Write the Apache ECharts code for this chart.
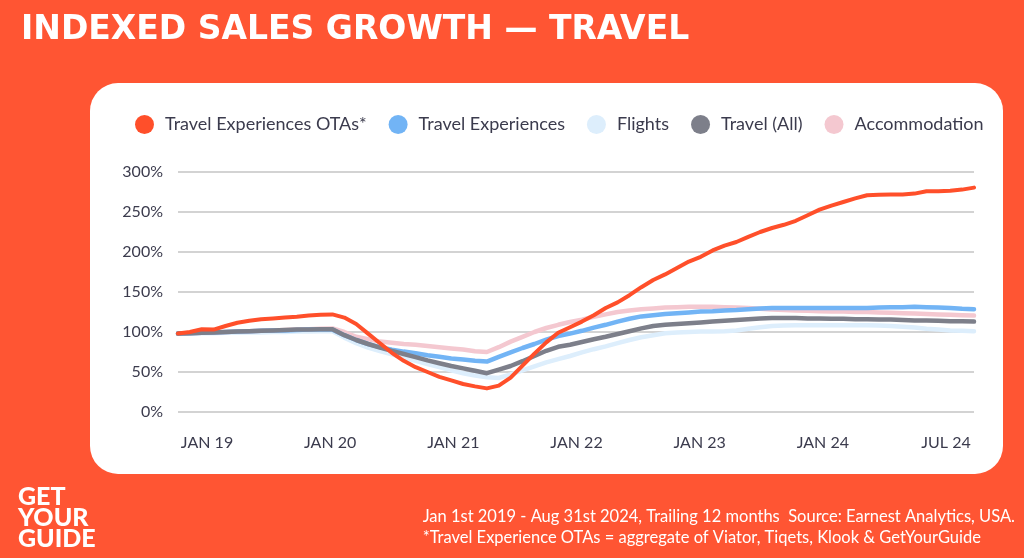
<!DOCTYPE html>
<html>
<head>
<meta charset="utf-8">
<style>
html,body{margin:0;padding:0;background:#FF5533;}
#chart{width:1024px;height:558px;}
</style>
<script src="https://cdn.jsdelivr.net/npm/echarts@6/dist/echarts.min.js"></script>
</head>
<body>
<div id="chart"></div>
<script>
// Monthly trailing-12-month index, Jan 2019 .. Aug 2024 (68 months)
const months = [];
for (let y = 2019; y <= 2024; y++) {
  for (let m = 1; m <= 12; m++) {
    if (y === 2024 && m > 8) break;
    months.push(y + '-' + (m < 10 ? '0' + m : m));
  }
}
const tickLabels = ['JAN 19', 'JAN 20', 'JAN 21', 'JAN 22', 'JAN 23', 'JAN 24', 'JUL 24'];
const seriesNames = ['Travel Experiences OTAs*', 'Travel Experiences', 'Flights', 'Travel (All)', 'Accommodation'];

const otas = [98,100,103.5,103,107.5,111.5,114,116,117,118,119,120.5,121.5,122,118,110,98,86,74,64,56,50,44,39.5,35,32,29.5,33,43,58,73,87,99,106,113,121,130,137,146,156,165,172,180,188,194,202,208,212.5,219,225,230,234,239,246,253,258,262.5,267,271,271.5,272,272,273,276,276,276.5,278,280.5];
const travelExp = [98,98.5,99,99.5,100,100.5,101,101.5,102,102,102.5,103,103,103,96,90,85,81,78,75.5,73.5,71,69,67,65.5,64,63,69,74.5,80,85,90.5,95,98,101.5,105.5,109,113,116.5,119.5,121,122.5,123.5,124.5,125.5,126,127,127.5,128.5,129.5,130,130,130,130,130,130,130,130,130,130.5,131,131,131.5,131,130.5,130,129,128.5];
const flights = [98,98,98.5,98.5,99,99,99.5,99.5,100,100,100.5,100.5,101,101,93,86,80.5,76,72,68,64,60,56,52,48.5,45.5,43.5,42.5,47,52,57,62,66,70,74.5,78.5,82,86,90,93.5,96,98.5,99.5,100,100.5,100.5,101,102,104,106,107.5,108,108.5,108.5,108.5,108.5,108.5,108.5,108.5,108,107.5,106.5,105.5,104,103,102,101.5,101];
const travelAll = [98,98.5,99,99.5,100,100.5,101,101.5,102,102.5,103,103,103.5,103.5,96,90,85,80.5,76.5,72.5,68.5,64.5,61,57.5,54.5,51.5,48.5,53,57.5,63.5,70,76.5,81.5,84,87.5,91,94,97.5,101,104.5,107.5,109,110,111,112,113,114,115,116,117,117.5,117.5,117.5,117,117,116.5,116.5,116,116,115.5,115.5,115,114.5,114.5,114,113.5,113.5,113];
const accommodation = [98,98.5,99,99.5,100,100.5,101,101.5,102,102.5,103,103.5,104,104.5,100,94,91,88,86.5,85,84,82.5,81,79.5,78,76,75,81,88,94,100,105,109,112.5,115.5,119,122,125,127,128.5,129.5,130.5,131,131.5,131.5,131.5,131,130.5,130,129,128,127.5,127,126.5,126,125.5,125.5,125,125,124.5,124,123.5,123,122.5,122,121.5,121,120.5];

const colors = ['#FF4F2A', '#72B4F5', '#DDEEFC', '#7D7F8A', '#F4C8D0'];
const zOrder = [10, 6, 3, 7, 4];
const allData = [otas, travelExp, flights, travelAll, accommodation];

const FONT = 'Lato, "Noto Sans", sans-serif';
const chart = echarts.init(document.getElementById('chart'));

const option = {
  backgroundColor: '#FF5533',
  animation: false,
  title: {
    text: 'INDEXED SALES GROWTH — TRAVEL',
    left: 16, top: 9,
    textStyle: { color: '#fff', fontSize: 33, fontWeight: 'bold', fontFamily: '"DejaVu Sans", sans-serif' }
  },
  graphic: [
    { type: 'rect', z: -10, shape: { x: 90, y: 83, width: 913, height: 391, r: 28 }, style: { fill: '#ffffff' } },
    { type: 'text', left: 18, top: 484, style: { text: 'GET\nYOUR\nGUIDE', fill: '#fff', font: '900 25px Lato, sans-serif', lineHeight: 21 } },
    { type: 'text', right: 9, top: 506, style: { text: 'Jan 1st 2019 - Aug 31st 2024, Trailing 12 months  Source: Earnest Analytics, USA.\n*Travel Experience OTAs = aggregate of Viator, Tiqets, Klook & GetYourGuide', fill: '#fff', font: '16.5px Lato, sans-serif', lineHeight: 21, align: 'right' } }
  ],
  legend: {
    left: 130, top: 110,
    icon: 'circle', itemWidth: 19, itemHeight: 19, itemGap: 22,
    data: seriesNames,
    textStyle: { color: '#3b3b4d', fontSize: 18, fontFamily: FONT, padding: [0, 0, 0, 6] }
  },
  grid: [
    { left: 178, right: 50, top: 172, bottom: 146 },
    { left: 207, right: 78, top: 172, bottom: 146 }
  ],
  xAxis: [
    { type: 'category', gridIndex: 0, data: months, boundaryGap: false, axisLine: { show: false }, axisTick: { show: false }, axisLabel: { show: false }, splitLine: { show: false } },
    { type: 'category', gridIndex: 1, data: tickLabels, boundaryGap: false, axisLine: { show: false }, axisTick: { show: false },
      axisLabel: { interval: 0, color: '#3b3b4d', fontSize: 16, fontFamily: FONT, margin: 23 } }
  ],
  yAxis: [
    { type: 'value', gridIndex: 0, min: 0, max: 300, interval: 50,
      axisLabel: { formatter: '{value}%', color: '#3b3b4d', fontSize: 16, fontFamily: FONT, margin: 15 },
      axisLine: { show: false }, axisTick: { show: false },
      splitLine: { lineStyle: { color: '#c4c4c4', width: 1.5 } } },
    { type: 'value', gridIndex: 1, min: 0, max: 300, show: false }
  ],
  series: seriesNames.map((n, i) => ({
    name: n, type: 'line', xAxisIndex: 0, yAxisIndex: 0,
    data: allData[i], symbol: 'none', smooth: false, z: zOrder[i],
    itemStyle: { color: colors[i] },
    lineStyle: { color: colors[i], width: i === 0 ? 4 : 4.5, cap: 'round', join: 'round' }
  }))
};
chart.setOption(option);
</script>
</body>
</html>
